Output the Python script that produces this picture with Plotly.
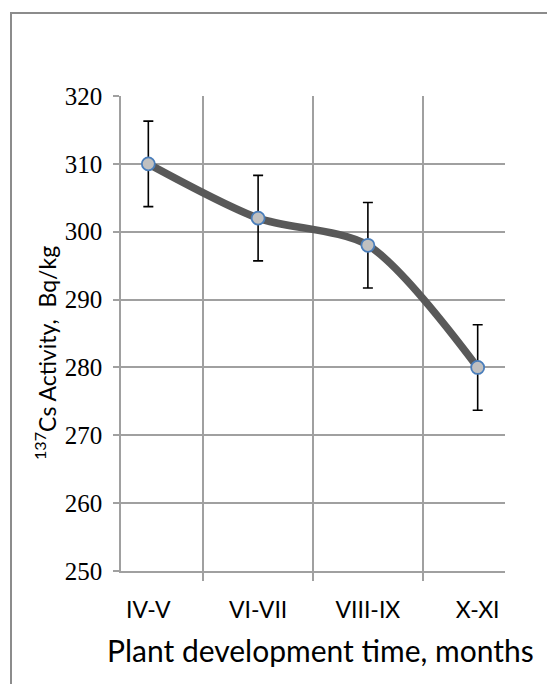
import plotly.graph_objects as go

categories = ["IV-V", "VI-VII", "VIII-IX", "X-XI"]
activity = [310, 302, 298, 280]
errors = [6.3, 6.3, 6.3, 6.3]
y_ticks = [250, 260, 270, 280, 290, 300, 310, 320]
x_title = "Plant development time, months"
y_title = "<sup>137</sup>Cs Activity,  Bq/kg"

# page body adds an 8px offset, so the figure is 8px smaller than the window
W, H = 547, 676
ml, mr, mt, mb = 113, 50, 88, 113
pw, ph = W - ml - mr, H - mt - mb

fig = go.Figure()
fig.add_trace(go.Scatter(
    x=categories, y=activity, mode="lines+markers",
    line=dict(color="#595959", width=7.5, shape="spline", smoothing=0.8),
    marker=dict(size=13, color="#c0c0c0", line=dict(color="#4a7ebb", width=1.8)),
    error_y=dict(type="data", array=errors, visible=True, color="black",
                 thickness=1.6, width=5),
    showlegend=False,
))

grid = "#a0a0a0"
fig.update_layout(
    width=W, height=H,
    margin=dict(l=ml, r=mr, t=mt, b=mb),
    paper_bgcolor="white", plot_bgcolor="white",
    shapes=[dict(
        type="rect", xref="paper", yref="paper",
        x0=(3 - ml) / pw, x1=(W + 10 - ml) / pw,
        y0=-(mb + 10) / ph, y1=(H - mb - 5) / ph,
        line=dict(color="#8c8c8c", width=2), fillcolor="rgba(0,0,0,0)", layer="below",
    )],
    annotations=[
        dict(text=x_title, xref="paper", yref="paper",
             x=(312 - ml) / pw, y=(H - mb - 642) / ph,
             xanchor="center", yanchor="middle", showarrow=False,
             font=dict(family="Lato", size=30, color="black")),
        dict(text=y_title, xref="paper", yref="paper", textangle=-90,
             x=(37 - ml) / pw, y=(H - mb - 345) / ph,
             xanchor="center", yanchor="middle", showarrow=False,
             font=dict(family="Lato", size=23, color="black")),
    ],
)
fig.update_xaxes(
    type="category", tickson="boundaries", showgrid=True, gridcolor=grid, gridwidth=1.5,
    ticks="outside", ticklen=8, tickcolor=grid, tickwidth=1.5,
    showline=True, linecolor=grid, linewidth=1.5, automargin=False,
    ticklabelstandoff=18,
    tickfont=dict(family="Lato", size=23, color="black"),
)
fig.update_yaxes(
    range=[250, 320], tickvals=y_ticks, showgrid=True, gridcolor=grid, gridwidth=1.5,
    ticks="outside", ticklen=6, tickcolor=grid, tickwidth=1.5,
    showline=True, linecolor=grid, linewidth=1.5, zeroline=False, automargin=False,
    ticklabelstandoff=6,
    tickfont=dict(family="Liberation Serif, Times New Roman, serif", size=25, color="black"),
)

fig.write_html("out.html")
